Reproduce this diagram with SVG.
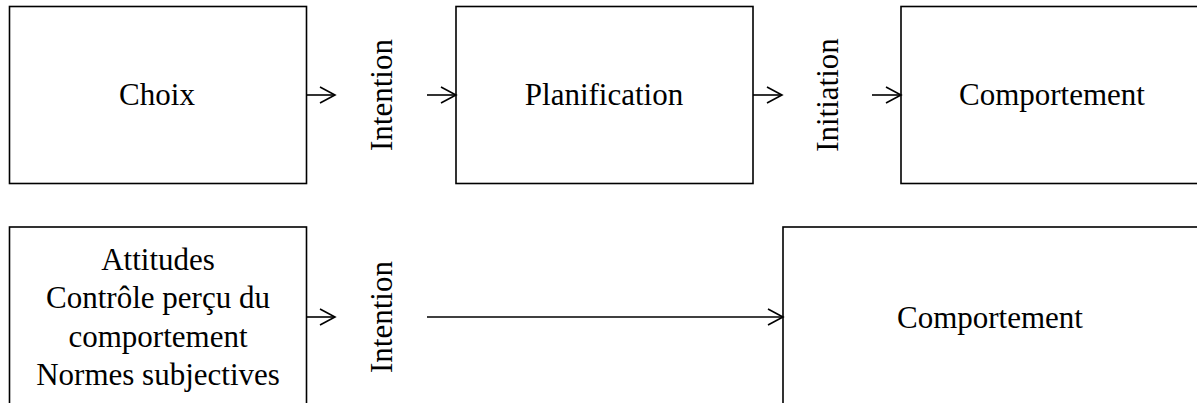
<svg xmlns="http://www.w3.org/2000/svg" width="1197" height="403" viewBox="0 0 1197 403">
<defs>
<style>
.box{fill:#fff;stroke:#000;stroke-width:1.6}
text{font-family:'Liberation Serif','Times New Roman',serif;font-size:31px;fill:#000;text-anchor:middle}
.c{stroke:#000;stroke-width:1.6;fill:none;marker-end:url(#ah)}
</style>
<marker id="ah" markerUnits="userSpaceOnUse" markerWidth="20" markerHeight="20" refX="16" refY="9" orient="auto">
<path d="M1,1 L16,9 L1,17" fill="none" stroke="#000" stroke-width="1.6"/>
</marker>
</defs>
<rect width="1197" height="403" fill="#fff"/>
<g font-family="Liberation Serif, Times New Roman, serif" font-size="31" text-anchor="middle">
<g id="choix"><rect class="box" x="9.5" y="6.5" width="297" height="177"/><text x="157" y="105">Choix</text></g>
<g id="planification"><rect class="box" x="456" y="6.5" width="297" height="177"/><text x="604" y="105">Planification</text></g>
<g id="comportement1"><rect class="box" x="901" y="6.5" width="310" height="177"/><text x="1052" y="105">Comportement</text></g>
<g id="label-intention1"><text transform="translate(392,95) rotate(-90)">Intention</text></g>
<g id="label-initiation"><text transform="translate(838,95) rotate(-90)">Initiation</text></g>
<g id="facteurs"><rect class="box" x="9.5" y="227" width="297" height="190"/>
<text x="158" y="270">Attitudes</text>
<text x="158" y="308">Contrôle perçu du</text>
<text x="158" y="347">comportement</text>
<text x="158" y="385">Normes subjectives</text></g>
<g id="label-intention2"><text transform="translate(392,317) rotate(-90)">Intention</text></g>
<g id="comportement2"><rect class="box" x="783" y="227" width="430" height="190"/><text x="990" y="328">Comportement</text></g>
</g>
<g id="connectors">
<line class="c" x1="307" y1="95" x2="335" y2="95"/>
<line class="c" x1="427" y1="95" x2="456" y2="95"/>
<line class="c" x1="753" y1="95" x2="782" y2="95"/>
<line class="c" x1="872" y1="95" x2="901" y2="95"/>
<line class="c" x1="307" y1="317" x2="335" y2="317"/>
<line class="c" x1="427" y1="317" x2="783" y2="317"/>
</g>
</svg>
